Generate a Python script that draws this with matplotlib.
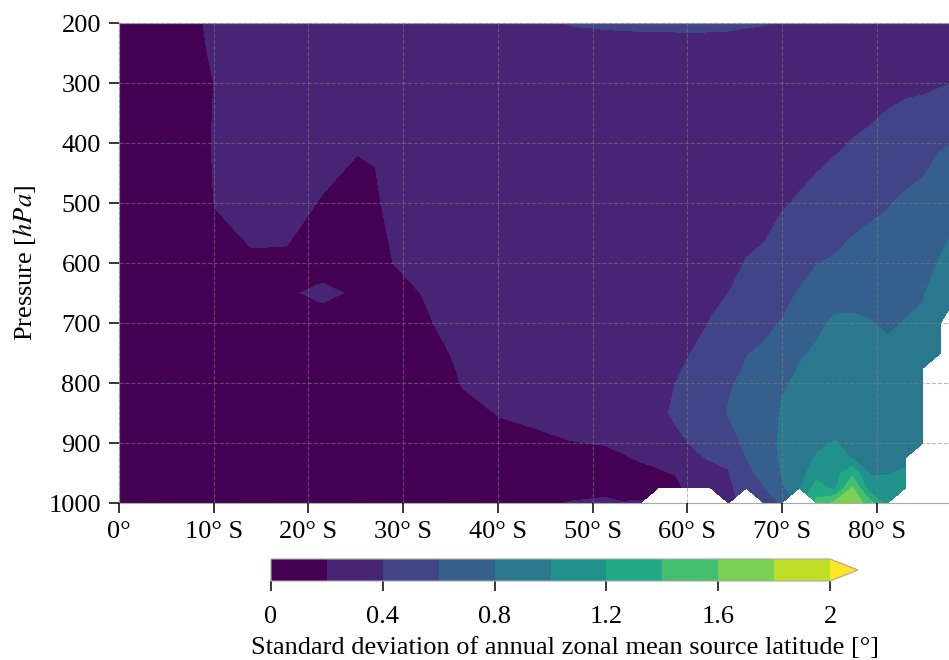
import numpy as np
import matplotlib
matplotlib.use("Agg")
import matplotlib.pyplot as plt
from matplotlib.colors import ListedColormap, BoundaryNorm
from matplotlib.ticker import NullLocator

# ---------------- data ----------------
lats = [0.0, 4.66, 8.39, 10.26, 13.99, 17.72, 21.45, 25.18, 27.05, 28.92,
        32.65, 36.38, 40.11, 43.84, 47.57, 51.30, 53.17, 55.03, 56.90, 58.76,
        60.63, 62.49, 64.36, 66.22, 68.09, 69.95, 71.82, 73.68, 75.55, 77.42,
        79.28, 81.15, 83.01, 84.88, 86.74, 88.60]

pressure = [200, 250, 300, 400, 500, 600, 650, 700, 750, 775, 800, 850,
            900, 925, 950, 975, 1000]

# one list per latitude column, values at the pressure levels above (None = below ground)
sd_by_lat = [
    [.12, .11, .10, .10, .10, .10, .10, .10, .10, .10, .10, .10, .10, .10, .10, .10, .10],
    [.14, .13, .12, .12, .12, .12, .12, .12, .12, .12, .12, .12, .12, .12, .12, .12, .12],
    [.19, .18, .17, .175, .17, .14, .13, .12, .12, .12, .12, .12, .12, .12, .12, .12, .12],
    [.23, .22, .205, .21, .205, .16, .15, .14, .14, .14, .13, .13, .12, .12, .12, .12, .12],
    [.26, .25, .24, .24, .23, .19, .16, .15, .14, .14, .14, .13, .13, .13, .13, .13, .13],
    [.27, .26, .25, .24, .225, .19, .19, .16, .15, .15, .14, .14, .14, .14, .14, .14, .14],
    [.28, .27, .26, .23, .195, .17, .215, .17, .15, .15, .14, .14, .14, .14, .14, .14, .14],
    [.28, .27, .25, .205, .18, .17, .19, .16, .15, .15, .14, .14, .14, .14, .14, .14, .14],
    [.28, .27, .25, .21, .185, .17, .165, .16, .15, .15, .14, .14, .14, .14, .14, .14, .14],
    [.29, .28, .27, .25, .23, .20, .175, .16, .15, .15, .15, .14, .14, .14, .14, .14, .14],
    [.30, .29, .28, .27, .26, .24, .207, .195, .17, .165, .16, .15, .15, .15, .15, .15, .15],
    [.32, .30, .28, .27, .27, .26, .25, .23, .22, .21, .205, .18, .16, .16, .15, .15, .15],
    [.34, .31, .29, .27, .27, .27, .26, .25, .24, .23, .22, .203, .18, .17, .16, .15, .15],
    [.37, .33, .30, .27, .27, .27, .27, .26, .25, .245, .24, .21, .19, .18, .16, .15, .17],
    [.405, .35, .29, .26, .26, .27, .27, .27, .26, .26, .25, .22, .198, .18, .16, .16, .205],
    [.415, .345, .285, .25, .25, .27, .27, .27, .27, .27, .27, .24, .202, .19, .16, .15, .23],
    [.42, .34, .28, .25, .25, .27, .28, .28, .29, .29, .29, .27, .21, .195, .16, .15, .205],
    [.425, .335, .28, .25, .26, .28, .29, .30, .31, .31, .32, .31, .25, .205, .185, .16, .21],
    [.43, .33, .28, .25, .27, .30, .31, .33, .34, .35, .36, .37, .33, .22, .19, .16, None],
    [.43, .33, .28, .26, .28, .31, .33, .35, .37, .385, .40, .42, .37, .30, .205, .17, None],
    [.43, .335, .29, .27, .30, .33, .35, .37, .405, .42, .44, .45, .41, .38, .30, .25, None],
    [.425, .34, .30, .28, .31, .35, .38, .405, .45, .47, .49, .50, .46, .41, .36, .32, None],
    [.42, .345, .30, .29, .33, .37, .40, .44, .53, .56, .585, .61, .53, .43, .39, .36, .33],
    [.41, .35, .31, .30, .35, .405, .44, .50, .595, .61, .63, .65, .63, .60, .56, .50, None],
    [.405, .345, .31, .31, .36, .42, .48, .575, .615, .64, .67, .70, .70, .68, .65, .59, .50],
    [.39, .34, .31, .32, .385, .48, .56, .605, .70, .75, .785, .815, .83, .825, .805, .76, .61],
    [.38, .33, .31, .33, .415, .55, .61, .70, .79, .805, .82, .84, .87, .90, .93, .97, None],
    [.37, .33, .32, .36, .44, .595, .67, .785, .81, .83, .85, .88, .96, 1.02, 1.10, 1.30, 1.45],
    [.36, .33, .33, .38, .47, .62, .775, .81, .84, .85, .86, .90, 1.01, 1.06, 1.12, 1.15, 1.65],
    [.35, .33, .33, .405, .55, .64, .78, .81, .85, .87, .88, .91, .95, .99, 1.35, 1.62, 1.78],
    [.34, .33, .35, .42, .57, .66, .77, .805, .85, .87, .88, .90, .93, .95, .98, 1.09, 1.48],
    [.33, .335, .36, .45, .59, .68, .74, .78, .83, .85, .87, .90, .93, .95, .99, 1.04, 1.08],
    [.32, .34, .37, .48, .63, .71, .77, .805, .84, .86, .87, .90, .93, .97, 1.02, 1.05, None],
    [.32, .345, .37, .52, .66, .76, .79, .82, .86, .88, .89, .91, .93, None, None, None, None],
    [.32, .35, .385, .58, .73, .81, .86, .90, .92, None, None, None, None, None, None, None, None],
    [.33, .37, .405, .61, .775, .87, .90, None, None, None, None, None, None, None, None, None, None],
]

contour_levels = [0.0, 0.2, 0.4, 0.6, 0.8, 1.0, 1.2, 1.4, 1.6, 1.8, 2.0]
cbar_ticks = [0, 0.4, 0.8, 1.2, 1.6, 2]
cbar_ticklabels = ["0", "0.4", "0.8", "1.2", "1.6", "2"]
x_ticks = [0, 10, 20, 30, 40, 50, 60, 70, 80]
x_ticklabels = ["0°"] + [f"{v}° S" for v in x_ticks[1:]]
y_ticks = [200, 300, 400, 500, 600, 700, 800, 900, 1000]

# ---------------- plot ----------------
plt.rcParams["font.family"] = "serif"
plt.rcParams["font.serif"] = ["Liberation Serif", "DejaVu Serif"]
plt.rcParams["mathtext.fontset"] = "stix"
plt.rcParams["font.size"] = 19

Z = np.ma.masked_invalid(np.array(sd_by_lat, dtype=float).T)

W, H = 949, 660
fig = plt.figure(figsize=(W / 100, H / 100), dpi=100)
ax = fig.add_axes([119 / W, 1 - 503 / H, 1 - 119 / W, 480 / H])

vir = plt.get_cmap("viridis")
cols = [vir(i / 10) for i in range(11)]
cmap = ListedColormap(cols[:10])
cmap.set_over(cols[10])
norm = BoundaryNorm(contour_levels, 10)

cf = ax.contourf(lats, pressure, Z, levels=contour_levels, cmap=cmap,
                 norm=norm, extend="max")

ax.set_xlim(0, 87.63)
ax.set_ylim(1000, 200)
ax.set_xticks(x_ticks)
ax.set_xticklabels(x_ticklabels)
ax.set_yticks(y_ticks)
ax.set_ylabel("Pressure [$hPa$]")
ax.yaxis.set_label_coords(-0.097, 0.5)
ax.grid(True, linestyle="--", linewidth=0.8, color="gray", alpha=0.55)
ax.set_axisbelow(False)
for side in ["top", "bottom", "left"]:
    ax.spines[side].set_color("#aaaaaa")
    ax.spines[side].set_linewidth(0.8)
ax.spines["right"].set_visible(False)
ax.tick_params(direction="out", length=7, width=1.1, color="black")
ax.tick_params(axis="x", pad=6)
ax.tick_params(axis="y", pad=6)

cax = fig.add_axes([271 / W, 1 - 581 / H, 587 / W, 22 / H])
cb = fig.colorbar(cf, cax=cax, orientation="horizontal", ticks=cbar_ticks)
cb.ax.set_xticklabels(cbar_ticklabels)
cb.ax.xaxis.set_minor_locator(NullLocator())
cb.outline.set_edgecolor("#aaaaaa")
cb.outline.set_linewidth(0.8)
cb.ax.tick_params(direction="out", length=7, width=1.1, color="black", pad=11)
fig.text(565 / W, 1 - 654 / H,
         "Standard deviation of annual zonal mean source latitude [°]",
         ha="center", va="baseline")

fig.savefig("out.png", dpi=100)
